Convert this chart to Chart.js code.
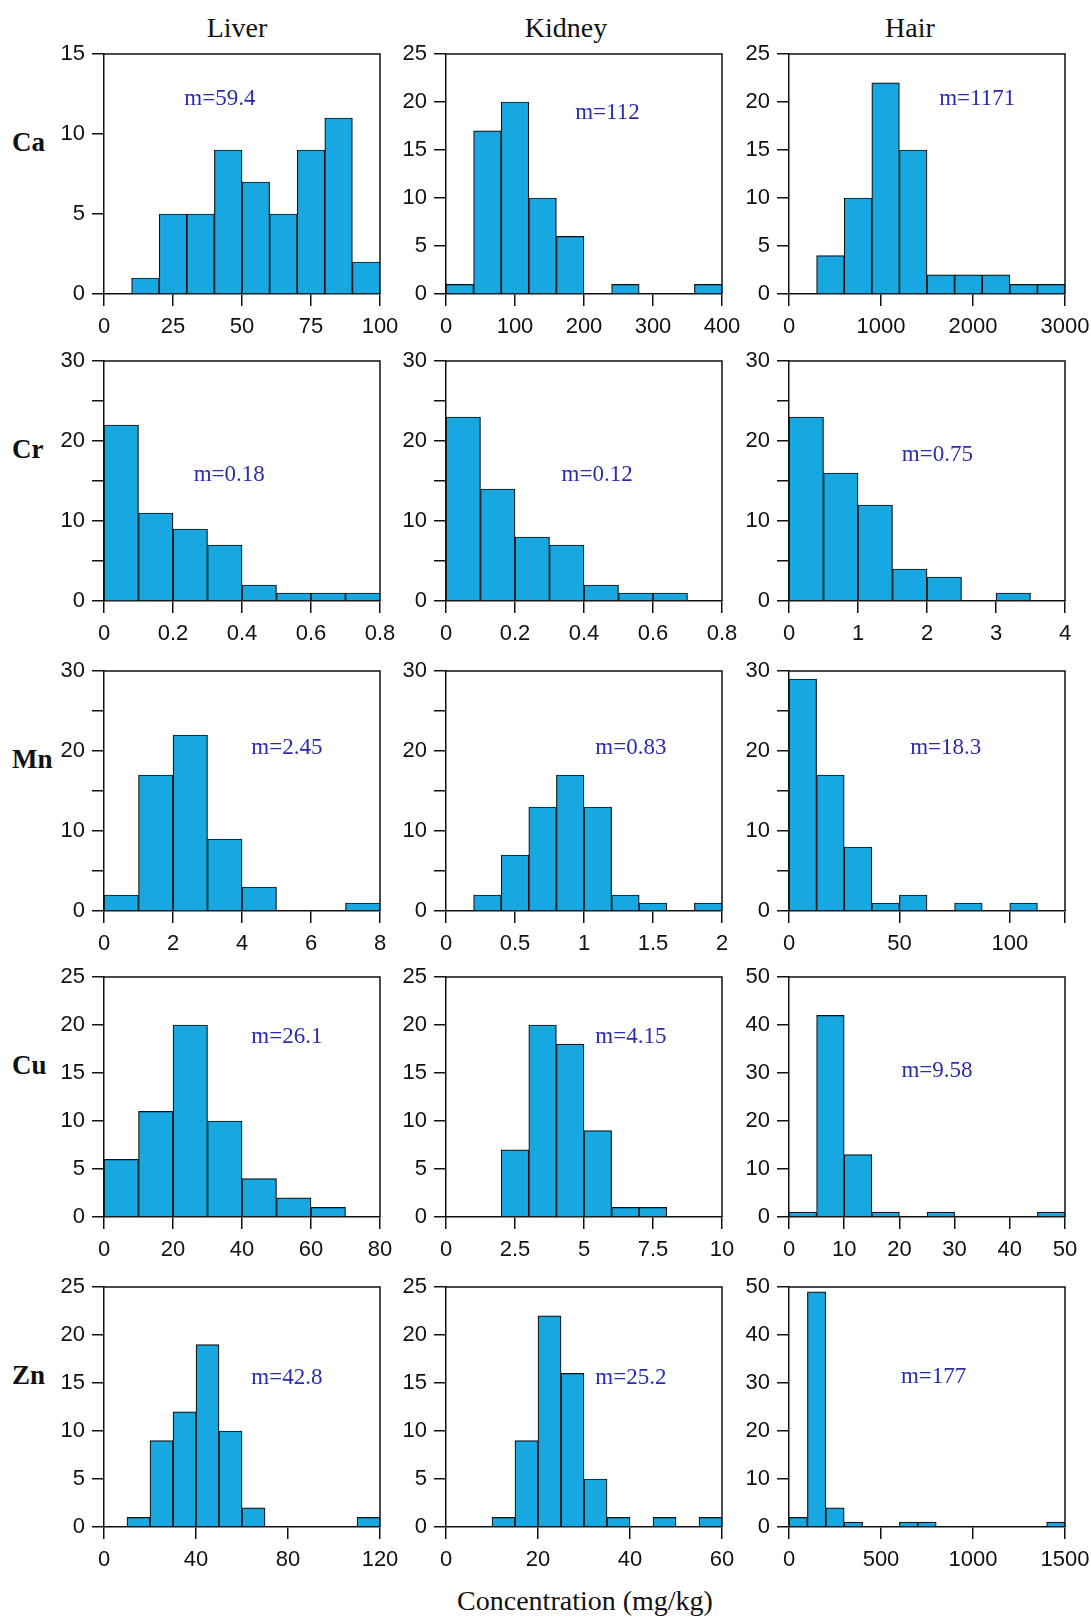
<!DOCTYPE html>
<html>
<head>
<meta charset="utf-8">
<script src="https://cdn.jsdelivr.net/npm/chart.js@4.4.1/dist/chart.umd.min.js"></script>
<style>
  body { margin: 0; background: #fff; }
  #page { position: relative; width: 1091px; height: 1619px; overflow: hidden; background: #fff; }
  #page canvas { position: absolute; }
  .title, .row, .xlabel { position: absolute; font-family: "Liberation Serif", serif; color: #111; white-space: nowrap; }
  .title { font-size: 28px; line-height: 28px; transform: translateX(-50%); }
  .row { font-size: 27px; line-height: 27px; font-weight: bold; }
  .xlabel { font-size: 28px; line-height: 28px; transform: translateX(-50%); }
</style>
</head>
<body>
<div id="page"></div>
<script>
// rows and columns
const elements = ['Ca', 'Cr', 'Mn', 'Cu', 'Zn'];
const tissues = ['Liver', 'Kidney', 'Hair'];

// histogram counts (one entry per bin)
const caLiver = [1, 5, 5, 9, 7, 5, 9, 11, 2];
const caKidney = [1, 17, 20, 10, 6, 0, 1, 0, 0, 1];
const caHair = [4, 10, 22, 15, 2, 2, 2, 1, 1];
const crLiver = [22, 11, 9, 7, 2, 1, 1, 1];
const crKidney = [23, 14, 8, 7, 2, 1, 1];
const crHair = [23, 16, 12, 4, 3, 0, 1];
const mnLiver = [2, 17, 22, 9, 3, 0, 0, 1];
const mnKidney = [2, 7, 13, 17, 13, 2, 1, 0, 1];
const mnHair = [29, 17, 8, 1, 2, 0, 1, 0, 1];
const cuLiver = [6, 11, 20, 10, 4, 2, 1];
const cuKidney = [7, 20, 18, 9, 1, 1];
const cuHair = [1, 42, 13, 1, 0, 1, 0, 0, 0, 1];
const znLiver = [1, 9, 12, 19, 10, 2, 0, 0, 0, 0, 1];
const znKidney = [1, 9, 22, 16, 5, 1, 0, 1, 0, 1];
const znHair = [2, 49, 4, 1, 0, 0, 1, 1, 0, 0, 0, 0, 0, 0, 1];

const counts = [
    [caLiver, caKidney, caHair],
    [crLiver, crKidney, crHair],
    [mnLiver, mnKidney, mnHair],
    [cuLiver, cuKidney, cuHair],
    [znLiver, znKidney, znHair]
];

// bins: where the first bin starts and how wide they are
const binStart = [[10, 0, 300], [0, 0, 0], [0, 0.2, 0], [0, 2, 0], [10, 10, 0]];
const binWidth = [[10, 40, 300], [0.1, 0.1, 0.5], [1, 0.2, 12.5], [10, 1, 5], [10, 5, 100]];

// axes
const xMax = [[100, 400, 3000], [0.8, 0.8, 4], [8, 2, 125], [80, 10, 50], [120, 60, 1500]];
const xStep = [[25, 100, 1000], [0.2, 0.2, 1], [2, 0.5, 50], [20, 2.5, 10], [40, 20, 500]];
const yMax = [[15, 25, 25], [30, 30, 30], [30, 30, 30], [25, 25, 50], [25, 25, 50]];
const yStep = [[5, 5, 5], [5, 5, 5], [5, 5, 5], [5, 5, 10], [5, 5, 10]];
const yLabelEvery = [[5, 5, 5], [10, 10, 10], [10, 10, 10], [5, 5, 10], [5, 5, 10]];

// medians printed in each panel, and where (in data units)
const means = [
    ['59.4', '112', '1171'],
    ['0.18', '0.12', '0.75'],
    ['2.45', '0.83', '18.3'],
    ['26.1', '4.15', '9.58'],
    ['42.8', '25.2', '177']
];
const meanAt = [
    [[42, 12.2], [234, 18.9], [2046, 20.3]],
    [[0.363, 15.7], [0.438, 15.7], [2.15, 18.2]],
    [[5.3, 20.4], [1.34, 20.4], [71, 20.4]],
    [[53, 18.8], [6.7, 18.8], [26.8, 30.4]],
    [[79.5, 15.5], [40.2, 15.5], [786, 31.3]]
];

// layout
const plotLeft = [104, 446, 789];
const plotTop = [54, 361, 671, 977, 1287];
const plotW = 276, plotH = 240;
const yAxisW = 75, xAxisH = 50, padTop = 15, padRight = 30;

const page = document.getElementById('page');

function onStep(v, step){
    const r = v / step;
    return Math.abs(r - Math.round(r)) < 1e-6;
}

function fmt(v){
    return String(+(+v).toFixed(3));
}

const framePlugin = {
    id: 'frame',
    afterDraw(chart, args, opts){
        const ctx = chart.ctx;
        const a = chart.chartArea;
        ctx.save();
        ctx.strokeStyle = '#111';
        ctx.lineWidth = 1.5;
        ctx.beginPath();
        ctx.moveTo(a.left, a.top);
        ctx.lineTo(a.right, a.top);
        ctx.lineTo(a.right, a.bottom);
        ctx.stroke();

        const x = chart.scales.x.getPixelForValue(opts.at[0]);
        const y = chart.scales.y.getPixelForValue(opts.at[1]);
        ctx.fillStyle = '#2b2bb0';
        ctx.font = '23px "Liberation Serif"';
        ctx.textAlign = 'center';
        ctx.textBaseline = 'middle';
        ctx.fillText('m=' + opts.text, x, y);
        ctx.restore();
    }
};

function addText(cls, text, left, top){
    const d = document.createElement('div');
    d.className = cls;
    d.textContent = text;
    d.style.left = left + 'px';
    d.style.top = top + 'px';
    page.appendChild(d);
}

const titleX = [237, 566, 910];
tissues.forEach((t, c) => addText('title', t, titleX[c], 14));
elements.forEach((e, r) => addText('row', e, 12, plotTop[r] + 75));
addText('xlabel', 'Concentration (mg/kg)', 585, 1587);

function histogram(r, c){
    const cv = document.createElement('canvas');
    const w = yAxisW + plotW + padRight;
    const h = padTop + plotH + xAxisH;
    cv.width = w;
    cv.height = h;
    cv.style.left = (plotLeft[c] - yAxisW) + 'px';
    cv.style.top = (plotTop[r] - padTop) + 'px';
    page.appendChild(cv);

    const start = binStart[r][c], bw = binWidth[r][c];
    const pts = counts[r][c].map((n, i) => ({x: start + (i + 0.5) * bw, y: n}));

    const tickFont = {family: '"Liberation Sans", sans-serif', size: 22};

    new Chart(cv, {
        type: 'bar',
        data: {
            datasets: [{
                data: pts,
                backgroundColor: '#17a8e2',
                borderColor: '#111',
                borderWidth: 1.2,
                barPercentage: 1,
                categoryPercentage: 1
            }]
        },
        options: {
            responsive: false,
            animation: false,
            devicePixelRatio: 1,
            layout: {padding: {top: padTop, right: padRight, left: 0, bottom: 0}},
            plugins: {
                legend: {display: false},
                tooltip: {enabled: false},
                frame: {text: means[r][c], at: meanAt[r][c]}
            },
            scales: {
                x: {
                    type: 'linear',
                    min: 0,
                    max: xMax[r][c],
                    offset: false,
                    grid: {offset: false, drawOnChartArea: false, drawTicks: true, tickLength: 12, color: '#111', lineWidth: 1.5},
                    border: {display: true, color: '#111', width: 1.5},
                    ticks: {
                        stepSize: xStep[r][c],
                        autoSkip: false,
                        maxRotation: 0,
                        padding: 8,
                        color: '#111',
                        font: tickFont,
                        callback: v => onStep(v, xStep[r][c]) ? fmt(v) : ''
                    },
                    afterFit: s => { s.height = xAxisH; s.paddingLeft = 0; s.paddingRight = 0; }
                },
                y: {
                    min: 0,
                    max: yMax[r][c],
                    grid: {drawOnChartArea: false, drawTicks: true, tickLength: 12, color: '#111', lineWidth: 1.5},
                    border: {display: true, color: '#111', width: 1.5},
                    ticks: {
                        stepSize: yStep[r][c],
                        autoSkip: false,
                        padding: 7,
                        color: '#111',
                        font: tickFont,
                        callback: v => onStep(v, yLabelEvery[r][c]) ? fmt(v) : ''
                    },
                    afterFit: s => { s.width = yAxisW; s.paddingTop = 0; s.paddingBottom = 0; }
                }
            }
        },
        plugins: [framePlugin]
    });
}

for (let r = 0; r < elements.length; r++){
    for (let c = 0; c < tissues.length; c++){
        histogram(r, c);
    }
}
</script>
</body>
</html>
